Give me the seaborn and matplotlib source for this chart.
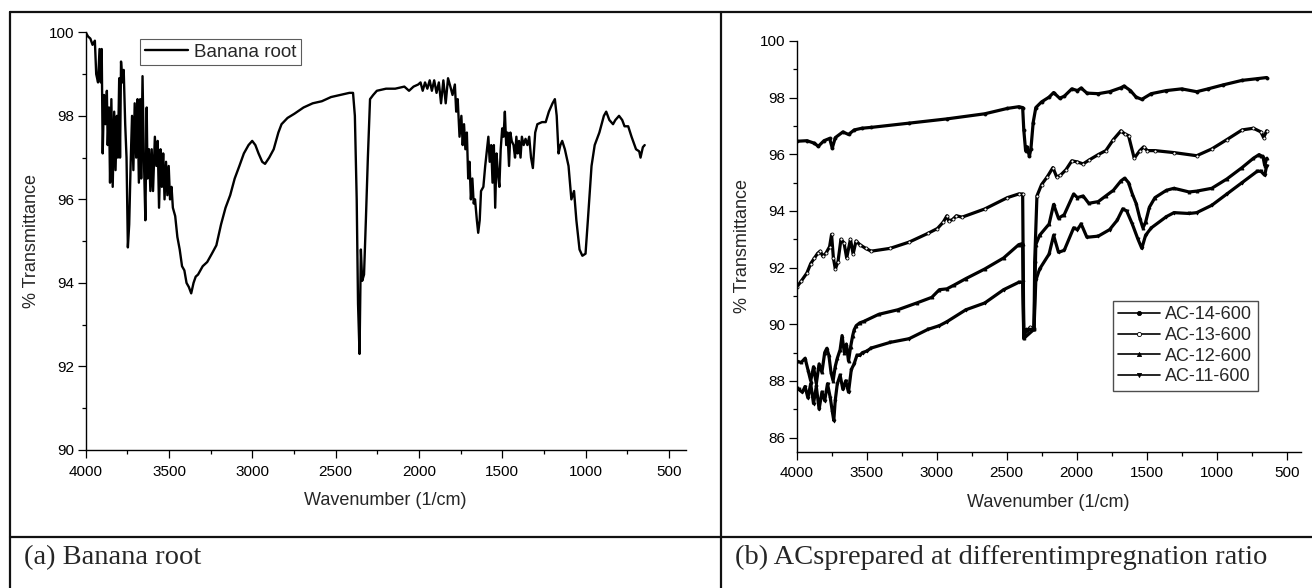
import numpy as np
import pandas as pd
import matplotlib
matplotlib.use("Agg")
import matplotlib.pyplot as plt
from matplotlib.lines import Line2D
from matplotlib.ticker import MultipleLocator
import seaborn as sns

# ---------------- data: (a) banana root ----------------
wn_banana = [4000, 3986, 3972, 3959, 3945, 3937, 3926, 3917, 3909, 3904, 3898, 3890, 3882, 3873, 3868,
             3860, 3854, 3846, 3838, 3829, 3821, 3813, 3807, 3799, 3794, 3788, 3780, 3772, 3763, 3755,
             3747, 3739, 3730, 3722, 3714, 3706, 3697, 3689, 3681, 3673, 3667, 3659, 3651, 3642, 3634,
             3629, 3620, 3612, 3604, 3596, 3585, 3576, 3568, 3560, 3551, 3543, 3535, 3527, 3518, 3510,
             3502, 3494, 3485, 3477, 3463, 3450, 3436, 3422, 3408, 3395, 3381, 3367, 3353, 3340, 3326,
             3298, 3271, 3243, 3216, 3188, 3161, 3133, 3106, 3078, 3051, 3023, 3001, 2982, 2963, 2941,
             2924, 2899, 2872, 2844, 2825, 2789, 2748, 2693, 2638, 2583, 2528, 2473, 2418, 2396, 2385,
             2374, 2366, 2357, 2349, 2341, 2330, 2319, 2307, 2294, 2275, 2253, 2198, 2143, 2088, 2060,
             2033, 2005, 1991, 1978, 1964, 1950, 1936, 1923, 1909, 1895, 1881, 1868, 1854, 1840, 1826,
             1812, 1799, 1785, 1777, 1768, 1757, 1746, 1738, 1730, 1722, 1713, 1705, 1697, 1689, 1680,
             1672, 1664, 1653, 1645, 1636, 1628, 1614, 1603, 1592, 1584, 1576, 1567, 1559, 1551, 1543,
             1535, 1526, 1518, 1510, 1501, 1493, 1485, 1477, 1469, 1460, 1452, 1444, 1433, 1424, 1416,
             1408, 1400, 1391, 1383, 1372, 1361, 1350, 1339, 1328, 1317, 1303, 1290, 1262, 1240, 1221,
             1199, 1185, 1174, 1163, 1152, 1141, 1125, 1103, 1086, 1070, 1056, 1037, 1020, 1001, 987,
             965, 946, 918, 891, 877, 858, 836, 822, 800, 781, 767, 745, 725, 698, 679, 671, 657, 646]
tr_banana = [100.0, 99.9, 99.85, 99.7, 99.8, 99.0, 98.8, 99.6, 98.8, 99.6, 97.1, 98.5, 97.8, 98.6, 97.3,
             98.2, 96.4, 98.4, 96.3, 98.1, 96.7, 98.0, 97.0, 98.9, 97.0, 99.3, 98.8, 99.1, 97.8, 97.0,
             94.85, 95.4, 96.9, 98.0, 96.7, 98.3, 97.0, 98.4, 96.4, 98.4, 96.5, 98.95, 97.0, 95.5, 98.2,
             96.5, 97.2, 96.2, 97.2, 96.2, 97.5, 96.8, 97.4, 95.8, 97.2, 96.3, 97.1, 96.0, 96.9, 96.1,
             96.8, 96.0, 96.3, 95.8, 95.6, 95.1, 94.8, 94.4, 94.3, 94.0, 93.9, 93.75, 94.0, 94.15, 94.2,
             94.4, 94.5, 94.7, 94.9, 95.4, 95.8, 96.1, 96.5, 96.8, 97.1, 97.3, 97.4, 97.3, 97.1, 96.9,
             96.85, 97.0, 97.2, 97.6, 97.8, 97.95, 98.05, 98.2, 98.3, 98.35, 98.45, 98.5, 98.55, 98.55, 98.0,
             96.0, 93.5, 92.3, 94.8, 94.05, 94.2, 95.5, 97.0, 98.4, 98.5, 98.6, 98.65, 98.65, 98.7, 98.6,
             98.7, 98.75, 98.8, 98.6, 98.8, 98.65, 98.85, 98.6, 98.85, 98.55, 98.8, 98.3, 98.85, 98.3, 98.9,
             98.7, 98.5, 98.75, 98.1, 98.4, 97.5, 98.0, 97.3, 97.8, 97.2, 97.6, 96.5, 96.9, 96.0, 96.5,
             95.9, 96.0, 95.5, 95.2, 95.5, 96.2, 96.3, 96.8, 97.2, 97.5, 96.9, 97.3, 96.4, 97.3, 95.8,
             97.1, 96.6, 96.3, 97.2, 97.7, 97.5, 98.1, 97.3, 97.6, 96.8, 97.6, 97.4, 97.3, 97.0, 97.5,
             97.1, 97.4, 97.0, 97.5, 97.3, 97.45, 97.3, 97.5, 97.0, 96.75, 97.6, 97.8, 97.85, 97.85, 98.1,
             98.3, 98.4, 98.0, 97.1, 97.3, 97.4, 97.2, 96.8, 96.0, 96.2, 95.5, 94.8, 94.65, 94.7, 95.5,
             96.8, 97.3, 97.6, 98.0, 98.1, 97.9, 97.8, 97.9, 98.0, 97.9, 97.75, 97.75, 97.5, 97.2, 97.15, 97.0, 97.25, 97.3]

# ---------------- data: (b) activated carbons ----------------
wn_ac14 = [4000, 3927, 3873, 3846, 3805, 3765, 3746, 3724, 3670, 3630, 3589, 3535, 3468, 3197, 2927,
           2657, 2495, 2414, 2386, 2378, 2365, 2354, 2338, 2327, 2311, 2292, 2251, 2197, 2165, 2122,
           2089, 2035, 1995, 1968, 1927, 1846, 1765, 1684, 1662, 1616, 1576, 1535, 1468, 1359, 1251,
           1143, 1062, 954, 819, 711, 643]
tr_ac14 = [96.46, 96.48, 96.39, 96.28, 96.48, 96.56, 96.22, 96.59, 96.79, 96.70, 96.86, 96.92, 96.95, 97.10, 97.25,
           97.43, 97.62, 97.68, 97.65, 96.86, 96.13, 96.26, 95.93, 96.19, 97.12, 97.65, 97.85, 98.02, 98.18, 97.98,
           98.05, 98.31, 98.25, 98.34, 98.16, 98.14, 98.21, 98.35, 98.41, 98.25, 98.02, 97.94, 98.14, 98.25, 98.31,
           98.21, 98.31, 98.45, 98.61, 98.67, 98.71]

wn_ac13 = [4000, 3968, 3927, 3900, 3873, 3851, 3832, 3814, 3792, 3765, 3751, 3738, 3724, 3705, 3684,
           3662, 3643, 3616, 3597, 3576, 3549, 3508, 3468, 3332, 3197, 3062, 2995, 2954, 2927, 2914,
           2886, 2859, 2819, 2657, 2495, 2414, 2386, 2378, 2359, 2332, 2305, 2300, 2284, 2251, 2211,
           2170, 2143, 2116, 2076, 2035, 1995, 1954, 1914, 1846, 1792, 1738, 1684, 1657, 1630, 1589,
           1549, 1522, 1495, 1441, 1305, 1143, 1035, 927, 819, 738, 684, 665, 643]
tr_ac13 = [91.31, 91.52, 91.81, 92.14, 92.34, 92.50, 92.58, 92.41, 92.50, 92.74, 93.17, 92.34, 91.95, 92.21, 93.00,
           92.87, 92.34, 93.00, 92.48, 92.94, 92.81, 92.68, 92.58, 92.68, 92.90, 93.21, 93.38, 93.60, 93.83, 93.64,
           93.70, 93.83, 93.78, 94.07, 94.47, 94.60, 94.60, 89.56, 89.69, 89.89, 89.82, 92.21, 94.53, 94.93, 95.20,
           95.53, 95.20, 95.26, 95.46, 95.77, 95.73, 95.66, 95.79, 95.99, 96.13, 96.52, 96.83, 96.72, 96.66, 95.86,
           96.13, 96.26, 96.13, 96.13, 96.06, 95.95, 96.19, 96.52, 96.86, 96.92, 96.79, 96.59, 96.83]

wn_ac12 = [4000, 3968, 3940, 3920, 3900, 3880, 3860, 3840, 3820, 3800, 3785, 3770, 3755, 3740, 3725,
           3710, 3690, 3676, 3660, 3645, 3630, 3615, 3600, 3590, 3575, 3549, 3521, 3414, 3278, 3143,
           3035, 2981, 2927, 2873, 2792, 2657, 2522, 2414, 2386, 2378, 2359, 2305, 2292, 2265, 2197,
           2165, 2130, 2089, 2022, 1995, 1954, 1914, 1846, 1792, 1738, 1684, 1657, 1630, 1603, 1576,
           1549, 1527, 1508, 1481, 1441, 1359, 1305, 1197, 1143, 1035, 927, 819, 738, 697, 684,
           670, 657, 643]
tr_ac12 = [88.70, 88.65, 88.80, 88.40, 88.00, 88.50, 87.90, 88.60, 88.30, 89.00, 89.15, 88.90, 88.30, 88.00, 88.50,
           88.80, 89.10, 89.60, 89.00, 89.30, 88.70, 89.20, 89.60, 89.80, 89.95, 90.05, 90.10, 90.35, 90.51, 90.75,
           90.95, 91.22, 91.25, 91.39, 91.61, 91.95, 92.34, 92.81, 92.85, 89.50, 89.82, 89.82, 92.81, 93.14, 93.54,
           94.23, 93.74, 93.87, 94.60, 94.47, 94.53, 94.27, 94.33, 94.53, 94.73, 95.06, 95.16, 95.00, 94.60, 94.27,
           93.74, 93.40, 93.60, 94.13, 94.47, 94.73, 94.80, 94.67, 94.70, 94.80, 95.13, 95.53, 95.86, 95.99, 95.95,
           95.93, 95.60, 95.86]

wn_ac11 = [4000, 3985, 3960, 3940, 3920, 3900, 3880, 3860, 3840, 3820, 3800, 3780, 3760, 3745, 3735,
           3725, 3710, 3690, 3670, 3650, 3630, 3610, 3590, 3570, 3550, 3530, 3500, 3468, 3332, 3197,
           3062, 2981, 2927, 2792, 2657, 2522, 2414, 2386, 2378, 2305, 2292, 2265, 2197, 2165, 2130,
           2089, 2022, 1995, 1968, 1927, 1846, 1765, 1711, 1671, 1643, 1603, 1563, 1535, 1508, 1468,
           1359, 1305, 1197, 1143, 1035, 927, 819, 711, 684, 657, 643]
tr_ac11 = [87.75, 87.70, 87.60, 87.80, 87.40, 87.90, 87.20, 87.80, 87.00, 87.60, 87.30, 87.90, 87.40, 86.90, 86.60,
           87.30, 87.90, 88.20, 87.70, 88.00, 87.60, 88.40, 88.60, 88.90, 88.90, 89.00, 89.05, 89.16, 89.36, 89.49,
           89.82, 89.95, 90.09, 90.51, 90.75, 91.22, 91.48, 91.48, 89.50, 89.82, 91.55, 91.95, 92.48, 93.14, 92.54,
           92.61, 93.40, 93.34, 93.54, 93.07, 93.11, 93.34, 93.67, 94.07, 94.00, 93.54, 93.01, 92.68, 93.14, 93.40,
           93.80, 93.94, 93.91, 93.94, 94.20, 94.60, 95.00, 95.40, 95.40, 95.26, 95.60]

ac_series = [("AC-14-600", wn_ac14, tr_ac14, "o"),
             ("AC-13-600", wn_ac13, tr_ac13, "o"),
             ("AC-12-600", wn_ac12, tr_ac12, "^"),
             ("AC-11-600", wn_ac11, tr_ac11, "v")]

x_label = "Wavenumber (1/cm)"
y_label = "% Transmittance"
caption_a = "(a) Banana root"
caption_b = "(b) ACsprepared at differentimpregnation ratio"

# ---------------- style ----------------
sns.set_theme(style="ticks")
plt.rcParams["font.family"] = ["Liberation Sans", "DejaVu Sans"]
plt.rcParams["axes.linewidth"] = 1.0
plt.rcParams["xtick.major.size"] = 5.5
plt.rcParams["ytick.major.size"] = 5.5
plt.rcParams["xtick.minor.size"] = 3
plt.rcParams["ytick.minor.size"] = 3
plt.rcParams["xtick.major.width"] = 0.9
plt.rcParams["ytick.major.width"] = 0.9
plt.rcParams["xtick.minor.width"] = 0.9
plt.rcParams["ytick.minor.width"] = 0.9

W, H = 1312, 588
fig = plt.figure(figsize=(W / 100, H / 100), dpi=100)

def px_axes(x0, x1, ytop, ybot):
    return fig.add_axes([x0 / W, 1 - ybot / H, (x1 - x0) / W, (ybot - ytop) / H])

ax1 = px_axes(85.7, 685.7, 32.3, 450.0)
ax2 = px_axes(796.7, 1300.7, 41.0, 451.7)

def style_axes(ax, ylim, ymaj):
    ax.set_xlim(4000, 400)
    ax.set_ylim(*ylim)
    ax.xaxis.set_major_locator(MultipleLocator(500))
    ax.xaxis.set_minor_locator(MultipleLocator(250))
    ax.yaxis.set_major_locator(MultipleLocator(ymaj))
    ax.yaxis.set_minor_locator(MultipleLocator(ymaj / 2))
    ax.tick_params(which="both", direction="out", colors="black", labelsize=11)
    ax.tick_params(axis="x", which="major", pad=5)
    ax.tick_params(axis="y", which="major", pad=3)
    for s in ("top", "right"):
        ax.spines[s].set_visible(False)
    for s in ("left", "bottom"):
        ax.spines[s].set_color("black")
    ax.set_xlabel(x_label, fontsize=13, labelpad=10)
    ax.set_ylabel(y_label, fontsize=13, labelpad=6)
    ax.set_facecolor("white")

# ---- panel (a)
df_a = pd.DataFrame({"wn": wn_banana, "tr": tr_banana})
sns.lineplot(data=df_a, x="wn", y="tr", ax=ax1, color="black", lw=1.7,
             sort=False, estimator=None, label="Banana root")
style_axes(ax1, (90, 100), 2)
ax1.set_yticks([90, 92, 94, 96, 98, 100])
leg1 = ax1.legend(loc="upper left", bbox_to_anchor=(0.0905, 0.984), borderaxespad=0,
                  fontsize=13.5, frameon=True, fancybox=False, handlelength=2.3,
                  handletextpad=0.35, borderpad=0.25)
leg1.get_frame().set_edgecolor("#333333")
leg1.get_frame().set_linewidth(0.8)

# ---- panel (b)
for name, wn, tr, mk in ac_series:
    df = pd.DataFrame({"wn": wn, "tr": tr})
    sns.lineplot(data=df, x="wn", y="tr", ax=ax2, color="black", lw=2.3,
                 marker=mk, markersize=2.2, markeredgewidth=0.6,
                 markerfacecolor="white" if name == "AC-13-600" else "black",
                 markeredgecolor="black",
                 sort=False, estimator=None, label=name)
style_axes(ax2, (85.5, 100), 2)
ax2.set_yticks(list(range(86, 101, 2)))
leg2 = ax2.legend(loc="upper left", bbox_to_anchor=(0.6276, 0.367), borderaxespad=0,
                  fontsize=13, frameon=True, fancybox=False, handlelength=2.3,
                  handletextpad=0.3, borderpad=0.3, labelspacing=0.2)
leg2.get_frame().set_edgecolor("#222222")
leg2.get_frame().set_linewidth(1.0)
for h in leg2.get_lines():
    h.set_linewidth(1.2)
    h.set_markersize(3)

# ---------------- table frame & captions ----------------
lc = "#111111"
lw = 1.6
def hline(y, x0, x1):
    fig.add_artist(Line2D([x0 / W, x1 / W], [1 - y / H, 1 - y / H], color=lc, lw=lw))
def vline(x, y0, y1):
    fig.add_artist(Line2D([x / W, x / W], [1 - y0 / H, 1 - y1 / H], color=lc, lw=lw))

hline(12, 10, W)
hline(536.7, 10, W)
vline(10, 12, H)
vline(721, 12, H)

fig.text(24 / W, 1 - 564.3 / H, caption_a, fontsize=20.5, family=["Liberation Serif", "DejaVu Serif"],
         va="baseline", ha="left")
fig.text(735 / W, 1 - 564.3 / H, caption_b, fontsize=20.5, family=["Liberation Serif", "DejaVu Serif"],
         va="baseline", ha="left")

fig.savefig("out.png", dpi=100, facecolor="white")
